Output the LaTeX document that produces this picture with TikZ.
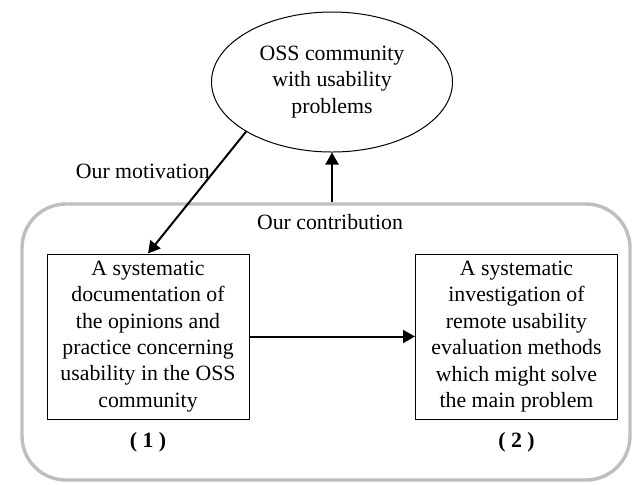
\documentclass[tikz,border=0pt]{standalone}
\usepackage{fontspec}
\setmainfont{Liberation Serif}
\usetikzlibrary{arrows.meta, positioning, shapes.geometric}
\definecolor{cframe}{HTML}{BEBEBE}
\tikzset{
  every picture/.style={font=\fontsize{10.9pt}{13.2pt}\selectfont, line width=0.5pt},
  stepbox/.style={draw, rectangle, align=center, inner sep=0pt, minimum width=101pt, minimum height=82.5pt},
  cloud/.style={draw, ellipse, align=center, inner sep=0pt, minimum width=120.5pt, minimum height=70pt},
  frame/.style={draw=cframe, line width=1.7pt, rounded corners=22pt, minimum width=304pt, minimum height=138pt},
  arrow/.style={-{Triangle[length=6pt, width=6.5pt]}, line width=1pt},
  tag/.style={font=\fontsize{10.9pt}{13.2pt}\selectfont\bfseries, inner sep=0pt},
}

\begin{document}
\begin{tikzpicture}[x=0.5pt, y=-0.5pt]
  \useasboundingbox (0,0) rectangle (632,484);
  \node[frame] (contrib) at (326,342) {};
  \node[cloud] (oss) at (332,82) {OSS community\\with usability\\problems};
  \node (ourc) at (330,222) {Our contribution};
  % the two studies
  \node[stepbox] (doc) at (148,336.5) {A systematic\\documentation of\\the opinions and\\practice concerning\\usability in the OSS\\community};
  \node[stepbox] (inv) at (516.5,336.5) {A systematic\\investigation of\\remote usability\\evaluation methods\\which might solve\\the main problem};
  \node[tag, below=6pt of doc] (one) {( 1 )};
  \node[tag, below=6pt of inv] (two) {( 2 )};
  % connectors
  \draw[arrow] (oss.210) -- node[pos=0.33, left, inner sep=1.5pt] (motiv) {Our motivation} (doc.north);
  \draw[arrow] (oss.south |- contrib.north) -- (oss.south);
  \draw[arrow] (doc) -- (inv);
\end{tikzpicture}
\end{document}
